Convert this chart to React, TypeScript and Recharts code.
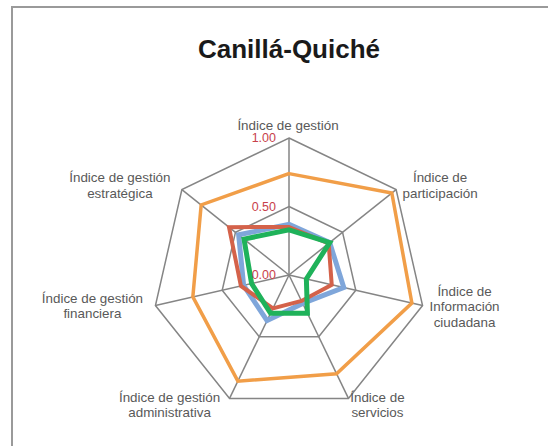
import React from "react";
import {
  RadarChart,
  Radar,
  PolarGrid,
  PolarAngleAxis,
  PolarRadiusAxis,
} from "recharts";

const axes = [
  "Índice de gestión",
  "Índice de participación",
  "Índice de Información ciudadana",
  "Índice de servicios",
  "Índice de gestión administrativa",
  "Índice de gestión financiera",
  "Índice de gestión estratégica",
];

const axisLines = [
  ["Índice de gestión"],
  ["Índice de", "participación"],
  ["Índice de", "Información", "ciudadana"],
  ["Índice de", "servicios"],
  ["Índice de gestión", "administrativa"],
  ["Índice de gestión", "financiera"],
  ["Índice de gestión", "estratégica"],
];

const orangeValues = [0.74, 0.96, 0.92, 0.8, 0.86, 0.72, 0.82];
const redValues = [0.35, 0.37, 0.32, 0.21, 0.27, 0.36, 0.56];
const blueValues = [0.37, 0.38, 0.41, 0.23, 0.37, 0.34, 0.47];
const greenValues = [0.33, 0.38, 0.13, 0.31, 0.31, 0.28, 0.42];

const radiusTicks = [0, 0.5, 1];

const data = axes.map((axis, i) => ({
  axis,
  orange: orangeValues[i],
  red: redValues[i],
  blue: blueValues[i],
  green: greenValues[i],
}));

const CX = 289;
const CY = 275;
const R = 137;

// where each label block sits relative to its vertex (centre x, first line y)
const labelOffsets = [
  [-1, -13],
  [44, -12],
  [42, -14],
  [29, -1],
  [-60, -1],
  [-63, -7],
  [-62, -12],
];

const font = "'Liberation Sans', Arial, sans-serif";

function AngleTick(props: any) {
  const { index } = props;
  const ang = ((90 - (index * 360) / axes.length) * Math.PI) / 180;
  const vx = CX + R * Math.cos(ang);
  const vy = CY - R * Math.sin(ang);
  const [dx, dy] = labelOffsets[index];
  return (
    <text
      x={vx + dx}
      y={vy + dy}
      textAnchor="middle"
      fill="#595959"
      fontSize={13.4}
      fontFamily={font}
    >
      {axisLines[index].map((line, j) => (
        <tspan key={j} x={vx + dx} y={vy + dy + j * 15.5} dominantBaseline="central">
          {line}
        </tspan>
      ))}
    </text>
  );
}

function RadiusTick(props: any) {
  const { x, y, payload } = props;
  return (
    <text
      x={x - 13}
      y={y}
      textAnchor="end"
      dominantBaseline="central"
      fill="#c8414b"
      fontSize={12.5}
      fontFamily={font}
    >
      {Number(payload.value).toFixed(2)}
    </text>
  );
}

export default function App() {
  return (
    <div style={{ position: "absolute", left: 0, top: 0, width: 548, height: 446, background: "#fff", overflow: "hidden" }}>
      <div
        style={{
          position: "absolute",
          left: 11,
          top: 6,
          width: 600,
          height: 500,
          borderTop: "2px solid #9a9a9a",
          borderLeft: "2px solid #9a9a9a",
        }}
      />
      <div
        style={{
          position: "absolute",
          left: 0,
          width: 578,
          top: 34,
          textAlign: "center",
          fontFamily: font,
          fontWeight: "bold",
          fontSize: 26,
          color: "#1a1a1a",
        }}
      >
        Canillá-Quiché
      </div>
      <div style={{ position: "absolute", left: 0, top: 0 }}>
        <RadarChart
          width={548}
          height={446}
          data={data}
          cx={CX}
          cy={CY}
          outerRadius={R}
          margin={{ top: 0, right: 0, bottom: 0, left: 0 }}
        >
          <PolarGrid gridType="polygon" stroke="#858585" strokeWidth={1.5} />
          <PolarAngleAxis dataKey="axis" tick={<AngleTick />} tickLine={false} axisLine={false} />
          <PolarRadiusAxis
            angle={90}
            domain={[0, 1]}
            ticks={radiusTicks as any}
            tickCount={3}
            axisLine={false}
            tick={<RadiusTick />}
          />
          <Radar dataKey="orange" stroke="#f19e48" strokeWidth={3.5} fill="none" fillOpacity={0} dot={false} isAnimationActive={false} />
          <Radar dataKey="blue" stroke="#7fa6da" strokeWidth={5} fill="none" fillOpacity={0} dot={false} isAnimationActive={false} />
          <Radar dataKey="red" stroke="#d4624a" strokeWidth={4} fill="none" fillOpacity={0} dot={false} isAnimationActive={false} />
          <Radar dataKey="green" stroke="#1fb25a" strokeWidth={5} fill="none" fillOpacity={0} dot={false} isAnimationActive={false} />
        </RadarChart>
      </div>
    </div>
  );
}
